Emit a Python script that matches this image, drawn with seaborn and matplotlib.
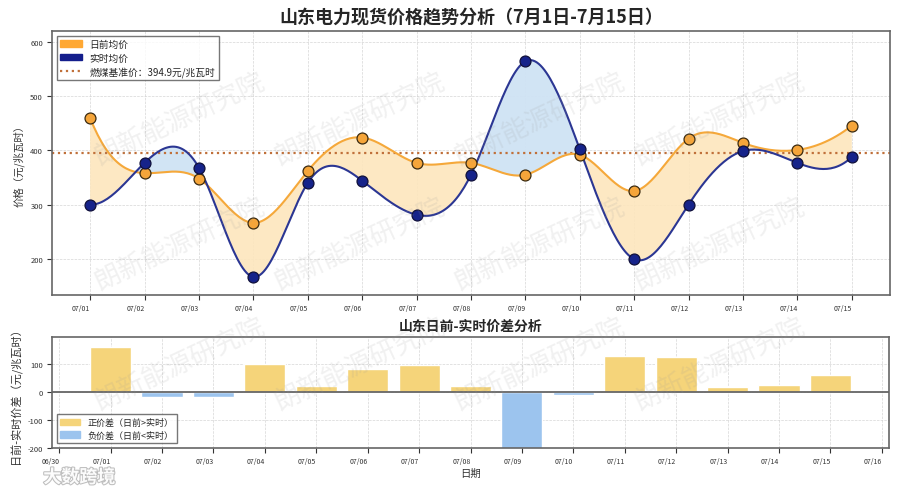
import matplotlib
matplotlib.use("Agg")
import matplotlib.pyplot as plt
import matplotlib.dates as mdates
import matplotlib.patheffects as pe
from matplotlib.patches import Patch
from matplotlib.lines import Line2D
import numpy as np
import pandas as pd
import seaborn as sns

# 数据
dates = pd.date_range("2025-07-01", "2025-07-15", freq="D")
day_ahead = [460, 358, 348, 266, 362, 424, 377, 377, 355, 392, 325, 422, 414, 401, 446]
real_time = [300, 377, 368, 166, 340, 344, 281, 355, 565, 402, 199, 300, 399, 377, 388]
coal_price = 394.9
watermark = "朗新能源研究院"

sns.set_theme(style="white")
plt.rcParams["font.family"] = ["Noto Sans CJK SC", "DejaVu Sans"]
plt.rcParams["axes.unicode_minus"] = False

ORANGE = "#F5A83A"
NAVY = "#2B3693"


def spline(y, n_out=400):
    # 三次样条（not-a-knot），只用于画平滑曲线
    y = np.asarray(y, dtype=float)
    n = len(y)
    A = np.zeros((n, n))
    b = np.zeros(n)
    A[0, :3] = [1, -2, 1]
    A[-1, -3:] = [1, -2, 1]
    for i in range(1, n - 1):
        A[i, i - 1:i + 2] = [1, 4, 1]
        b[i] = 6 * (y[i + 1] - 2 * y[i] + y[i - 1])
    M = np.linalg.solve(A, b)
    t = np.linspace(0, n - 1, n_out)
    i = np.clip(np.floor(t).astype(int), 0, n - 2)
    a = (i + 1) - t
    c = t - i
    s = (M[i] * a ** 3 + M[i + 1] * c ** 3) / 6 + (y[i] - M[i] / 6) * a + (y[i + 1] - M[i + 1] / 6) * c
    return t, s


t, da_s = spline(day_ahead)
_, rt_s = spline(real_time)
t_dates = dates[0] + pd.to_timedelta(t, unit="D")
smooth = pd.DataFrame({"date": t_dates, "da": da_s, "rt": rt_s})
points = pd.DataFrame({"date": dates, "da": day_ahead, "rt": real_time})
diff = np.array(day_ahead) - np.array(real_time)

fig = plt.figure(figsize=(9, 4.89), dpi=100)
ax1 = fig.add_axes([0.0578, 0.395, 0.931, 0.540])
ax2 = fig.add_axes([0.0578, 0.082, 0.930, 0.227])

# 上图：价格曲线
ax1.fill_between(smooth["date"], smooth["da"], smooth["rt"], where=smooth["da"] >= smooth["rt"],
                 interpolate=True, color="#FDE6BD", alpha=0.9, zorder=1, linewidth=0)
ax1.fill_between(smooth["date"], smooth["da"], smooth["rt"], where=smooth["da"] < smooth["rt"],
                 interpolate=True, color="#CFE3F4", alpha=0.95, zorder=1, linewidth=0)
sns.lineplot(data=smooth, x="date", y="da", color=ORANGE, lw=1.5, ax=ax1, zorder=3)
sns.lineplot(data=smooth, x="date", y="rt", color=NAVY, lw=1.5, ax=ax1, zorder=3)
sns.scatterplot(data=points, x="date", y="da", color="#F5A53A", edgecolor="#3a2a10", linewidth=0.9,
                s=62, ax=ax1, zorder=4)
sns.scatterplot(data=points, x="date", y="rt", color="#16238A", edgecolor="#10103a", linewidth=0.9,
                s=62, ax=ax1, zorder=4)
ax1.axhline(coal_price, color="#C0703A", ls=":", lw=1.6, zorder=2)

ax1.set_ylim(min(real_time) * 0.8, max(real_time) * 1.1)
ax1.set_yticks([200, 300, 400, 500, 600])
ax1.set_xticks(dates)
ax1.xaxis.set_major_formatter(mdates.DateFormatter("%m/%d"))
ax1.set_xlabel("")
ax1.set_ylabel("价格（元/兆瓦时）", fontsize=7.5, color="#333333")
ax1.set_title("山东电力现货价格趋势分析（7月1日-7月15日）", fontsize=13, fontweight="bold", pad=6)
ax1.grid(True, ls="--", lw=0.5, color="#cccccc", alpha=0.8)

handles = [Patch(color="#FFA833", label="日前均价"),
           Patch(color="#141E8C", label="实时均价"),
           Line2D([0], [0], color="#C0703A", ls=":", lw=1.6, label=f"燃煤基准价：{coal_price}元/兆瓦时")]
ax1.legend(handles=handles, loc="upper left", fontsize=7, frameon=True, edgecolor="#555555",
           fancybox=False, borderpad=0.35, handlelength=2.2, labelspacing=0.35)

# 下图：价差柱状图
bar_colors = ["#F5D47A" if d >= 0 else "#9CC4EE" for d in diff]
ax2.bar(dates, diff, width=0.8, color=bar_colors, zorder=2)
ax2.axhline(0, color="#666666", lw=1.3, zorder=3)
ax2.set_ylim(-200, 195)
ax2.set_yticks([-200, -100, 0, 100])
ax2.xaxis.set_major_locator(mdates.DayLocator())
ax2.xaxis.set_major_formatter(mdates.DateFormatter("%m/%d"))
ax2.set_xlabel("日期", fontsize=7.5, color="#333333", labelpad=2)
ax2.set_ylabel("日前-实时价差（元/兆瓦时）", fontsize=8, color="#333333")
ax2.set_title("山东日前-实时价差分析", fontsize=10, fontweight="bold", pad=5)
ax2.grid(True, ls="--", lw=0.5, color="#cccccc", alpha=0.8)
ax2.legend(handles=[Patch(color="#F5D47A", label="正价差（日前>实时）"),
                    Patch(color="#9CC4EE", label="负价差（日前<实时）")],
           loc="lower left", fontsize=6.5, frameon=True, edgecolor="#555555", fancybox=False,
           borderpad=0.4, handlelength=2.2, labelspacing=0.4)

for ax in (ax1, ax2):
    ax.tick_params(axis="both", labelsize=5.5, length=3.5, width=0.8, colors="#333333", pad=3)
    ax.tick_params(axis="x", labelsize=5, bottom=True)
    ax.tick_params(axis="y", left=True)
    for lab in ax.get_xticklabels():
        lab.set_ha("right")
    for sp in ax.spines.values():
        sp.set_color("#666666")
        sp.set_linewidth(1.2)

# 水印
for fy in (0.755, 0.50, 0.254):
    for fx in (0.2, 0.4, 0.6, 0.8):
        fig.text(fx, fy, watermark, fontsize=19, color="#999999", alpha=0.14, rotation=25,
                 ha="center", va="center", zorder=10)
fig.text(0.048, 0.022, "大数跨境", fontsize=13, fontweight="bold", color="white", alpha=0.95,
         va="center", path_effects=[pe.withStroke(linewidth=1.5, foreground="#bbbbbb")])

fig.savefig("out.png", dpi=100)
